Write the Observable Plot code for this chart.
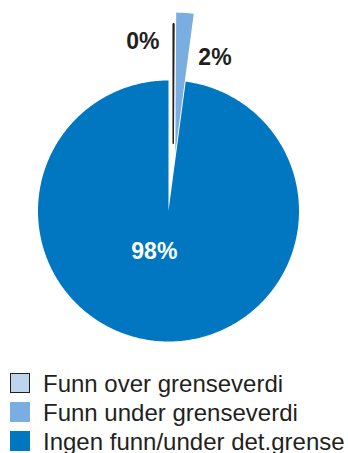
<!DOCTYPE html>
<html>
<head>
<meta charset="utf-8">
<script src="https://cdn.jsdelivr.net/npm/d3@7"></script>
<script src="https://cdn.jsdelivr.net/npm/@observablehq/plot@0.6"></script>
<style>
  html, body { margin: 0; padding: 0; background: #fff; }
  body { width: 348px; height: 453px; position: relative; overflow: hidden;
         font-family: "Liberation Sans", Arial, Helvetica, sans-serif; color: #231f20; }
  #chart svg { display: block; }
  #legend { position: absolute; left: 9.5px; top: 372px; }
  .row { display: flex; align-items: flex-start; height: 29px; font-size: 24px; line-height: 24px; white-space: nowrap; }
  .sw { width: 20px; height: 20px; box-sizing: border-box; margin-right: 13.5px; margin-top: 0.5px; flex: none; }
</style>
</head>
<body>
<div id="chart"></div>
<div id="legend"></div>
<script>
// ---- data ----
const categories = ["Funn over grenseverdi", "Funn under grenseverdi", "Ingen funn/under det.grense"];
const shares = [0.1, 2.0, 97.9];   // percent

// ---- styles ----
const colors = ["#bdd5ef", "#7aaee0", "#0077c0"];
const strokes = ["#231f20", "#ffffff", "none"];
const strokeWidths = [1.5, 1.5, 0];
const explodeX = [0.036, 0.046, 0];      // in radius units
const explodeY = [0.5195, 0.356, 0];
const radiusFactor = [0.915, 1.17, 1];
const labelAngle = [-8.6, 16.9, 199.2]; // degrees, clockwise from top
const labelRadius = [1.31, 1.225, 0.33];
const labelColors = ["#231f20", "#231f20", "#ffffff"];
const drawOrder = [1, 2, 0];

const W = 348, H = 360, R = 130.5, CX = 168, CY = 210.5;

const arcs = d3.pie().sort(null).value(d => d)(shares);

function wedge(i) {
  const a0 = arcs[i].startAngle, a1 = arcs[i].endAngle;
  const ox = explodeX[i], oy = explodeY[i], r = radiusFactor[i];
  const pts = [{x: ox, y: oy}];
  const n = Math.max(2, Math.ceil((a1 - a0) / (Math.PI / 360)));
  for (let k = 0; k <= n; k++) {
    const a = a0 + (a1 - a0) * k / n;
    pts.push({x: ox + r * Math.sin(a), y: oy + r * Math.cos(a)});
  }
  pts.push({x: ox, y: oy});
  return pts;
}

const labels = shares.map((v, i) => {
  const a = labelAngle[i] * Math.PI / 180;
  return {x: labelRadius[i] * Math.sin(a), y: labelRadius[i] * Math.cos(a),
          text: d3.format(".0f")(v) + "%", color: labelColors[i]};
});

const marks = drawOrder.map(i => Plot.line(wedge(i), {
  x: "x", y: "y", fill: colors[i], stroke: strokes[i], strokeWidth: strokeWidths[i],
  strokeLinejoin: "bevel", curve: "linear"
}));
marks.push(Plot.text(labels, {
  x: "x", y: "y", text: "text", fill: "color", fontSize: 23, fontWeight: "bold",
  fontFamily: "Liberation Sans, Arial, Helvetica, sans-serif", textAnchor: "middle", lineAnchor: "middle"
}));

const chart = Plot.plot({
  width: W, height: H, margin: 0,
  x: {domain: [-CX / R, (W - CX) / R], axis: null},
  y: {domain: [-(H - CY) / R, CY / R], axis: null},
  style: {background: "transparent", overflow: "visible"},
  marks
});
document.getElementById("chart").appendChild(chart);

const legend = document.getElementById("legend");
categories.forEach((c, i) => {
  const row = document.createElement("div");
  row.className = "row";
  const sw = document.createElement("div");
  sw.className = "sw";
  sw.style.background = colors[i];
  if (i === 0) sw.style.border = "1.5px solid #231f20";
  const t = document.createElement("span");
  t.textContent = c;
  row.appendChild(sw); row.appendChild(t);
  legend.appendChild(row);
});
</script>
</body>
</html>
